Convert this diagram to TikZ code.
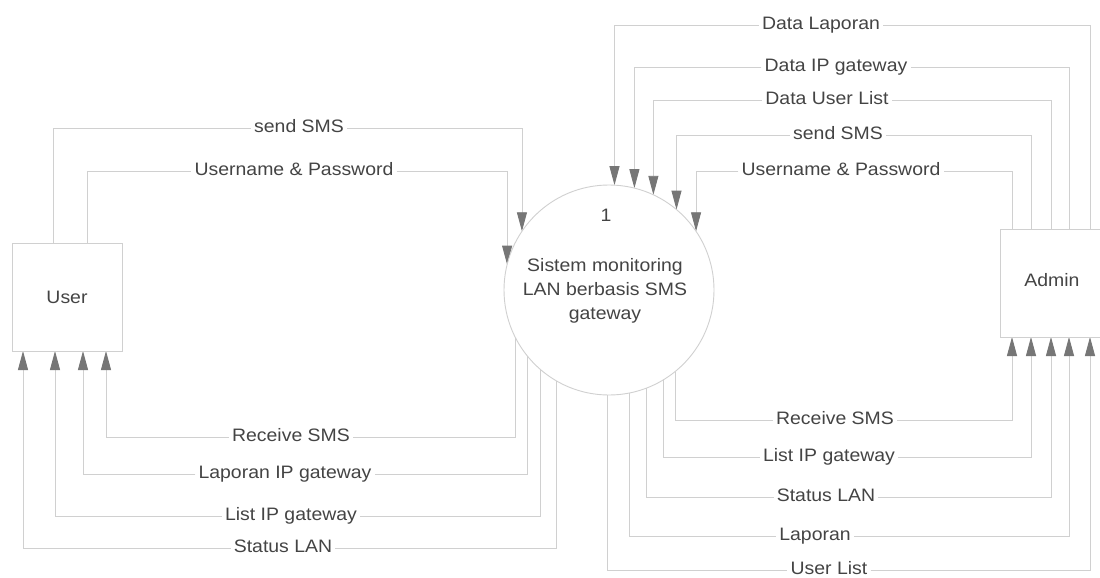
\documentclass[tikz,border=0pt]{standalone}
\usepackage{fontspec}
\setmainfont{Liberation Sans}[FakeStretch=1.08]
\usetikzlibrary{arrows.meta}
\definecolor{linecol}{RGB}{208,208,208}
\definecolor{tipcol}{RGB}{118,118,118}
\definecolor{txtcol}{RGB}{68,68,68}
\pgfdeclarelayer{paper}
\pgfdeclarelayer{wires}
\pgfsetlayers{paper,wires,main}
\tikzset{
  entity/.style={draw=linecol, line width=0.9pt, minimum width=110pt, minimum height=108pt,
                 inner sep=0pt, outer sep=0pt, text=txtcol},
  procbox/.style={circle, draw=linecol, line width=0.9pt, minimum size=210pt,
                  inner sep=0pt, outer sep=0pt},
  flow/.style={draw=linecol, line width=0.9pt,
               -{Triangle[length=19pt,width=10pt,color=tipcol]}},
  lbl/.style={fill=white, text=txtcol, inner sep=3pt, text height=13pt, text depth=4pt},
  ptxt/.style={text=txtcol, align=center, inner sep=0pt}
}
\begin{document}
\begin{tikzpicture}[x=1pt,y=-1pt,font=\fontsize{18}{24}\selectfont]
\useasboundingbox (0,0) rectangle (1100,578);
\begin{pgfonlayer}{paper}
  \fill[white] (0,0) rectangle (1100,578);
\end{pgfonlayer}

% external entities and the process
\node[entity] (user) at (67,297) {User};
\node[entity] (admin) at (1055,283) {};
\node[text=txtcol] (admintxt) at (1052,280) {Admin};
\node[procbox] (proc) at (609,290) {};
\node[ptxt] (pnum) at (606,215) {1};
\node[ptxt] (pname) at (605,291) {Sistem monitoring\\LAN berbasis SMS\\gateway};

% ports on the entity boxes
\coordinate (ut1) at ([xshift=41pt]user.north west);
\coordinate (ut2) at ([xshift=75pt]user.north west);
\coordinate (ub1) at ([xshift=11pt]user.south west);
\coordinate (ub2) at ([xshift=43pt]user.south west);
\coordinate (ub3) at ([xshift=71pt]user.south west);
\coordinate (ub4) at ([xshift=94pt]user.south west);
\coordinate (at1) at ([xshift=12pt]admin.north west);
\coordinate (at2) at ([xshift=31pt]admin.north west);
\coordinate (at3) at ([xshift=51pt]admin.north west);
\coordinate (at4) at ([xshift=69pt]admin.north west);
\coordinate (at5) at ([xshift=90pt]admin.north west);
\coordinate (ab1) at ([xshift=12pt]admin.south west);
\coordinate (ab2) at ([xshift=31pt]admin.south west);
\coordinate (ab3) at ([xshift=51pt]admin.south west);
\coordinate (ab4) at ([xshift=69pt]admin.south west);
\coordinate (ab5) at ([xshift=90pt]admin.south west);

% data flow labels: user side
\node[lbl] (sendL) at (299,128) {send SMS};
\node[lbl] (unameL) at (294,171) {Username \& Password};
\node[lbl] (recvL) at (291,437) {Receive SMS};
\node[lbl] (lapipL) at (285,474) {Laporan IP gateway};
\node[lbl] (listL) at (291,516) {List IP gateway};
\node[lbl] (statL) at (283,548) {Status LAN};

% data flow labels: admin side
\node[lbl] (dlapR) at (821,25) {Data Laporan};
\node[lbl] (dipR) at (836,67) {Data IP gateway};
\node[lbl] (dulR) at (827,100) {Data User List};
\node[lbl] (sendR) at (838,135) {send SMS};
\node[lbl] (unameR) at (841,171) {Username \& Password};
\node[lbl] (recvR) at (835,420) {Receive SMS};
\node[lbl] (listR) at (829,457) {List IP gateway};
\node[lbl] (statR) at (826,497) {Status LAN};
\node[lbl] (lapR) at (815,536) {Laporan};
\node[lbl] (ulR) at (829,570) {User List};

\begin{pgfonlayer}{wires}
  % User -> process
  \draw[flow] (ut1) |- (sendL) -| (proc.146);
  \draw[flow] (ut2) |- (unameL) -| (proc.166);
  % process -> User
  \draw[flow] (proc.-153.5) |- (recvL) -| (ub4);
  \draw[flow] (proc.-141.3) |- (lapipL) -| (ub3);
  \draw[flow] (proc.-131.8) |- (listL) -| (ub2);
  \draw[flow] (proc.-120.3) |- (statL) -| (ub1);
  % Admin -> process
  \draw[flow] (at5) |- (dlapR) -| (proc.87.8);
  \draw[flow] (at4) |- (dipR) -| (proc.76.8);
  \draw[flow] (at3) |- (dulR) -| (proc.65.2);
  \draw[flow] (at2) |- (sendR) -| (proc.50.4);
  \draw[flow] (at1) |- (unameR) -| (proc.34);
  % process -> Admin
  \draw[flow] (proc.-51.8) |- (recvR) -| (ab1);
  \draw[flow] (proc.-59.7) |- (listR) -| (ab2);
  \draw[flow] (proc.-69.9) |- (statR) -| (ab3);
  \draw[flow] (proc.-79) |- (lapR) -| (ab4);
  \draw[flow] (proc.-91.6) |- (ulR) -| (ab5);
\end{pgfonlayer}
\end{tikzpicture}
\end{document}
